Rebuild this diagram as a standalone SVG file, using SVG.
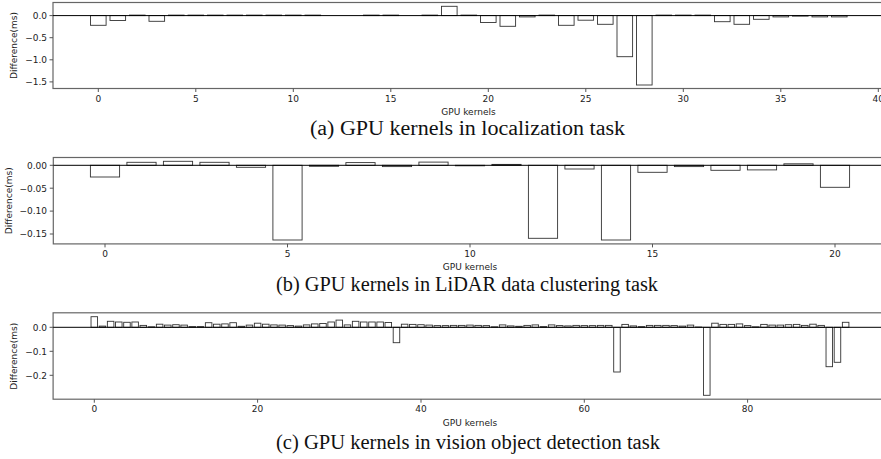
<svg xmlns="http://www.w3.org/2000/svg" width="881" height="459" viewBox="0 0 881 459">
<style>
.bg{fill:#fff}
.sp{fill:none;stroke:#666;stroke-width:1.2}
.zl{stroke:#000;stroke-width:1}
.tk{stroke:#555;stroke-width:1}
.b rect{fill:#fff;stroke:#333;stroke-width:0.9}
.t{font-family:"DejaVu Sans",sans-serif;font-size:9px;fill:#222}
.e{text-anchor:end}
.m{text-anchor:middle}
.cap{font-family:"Liberation Serif","Times New Roman",serif;font-size:20px;fill:#111;text-anchor:middle}
</style>
<rect class="bg" x="0" y="0" width="881" height="459"/>

<g id="panel-a">
  <rect class="sp" x="53" y="2.5" width="840" height="86"/>
  <g class="b">
    <rect x="90.5" y="15.6" width="15.6" height="9.7"/>
    <rect x="110" y="15.6" width="15.6" height="4.9"/>
    <rect x="129.5" y="15.1" width="15.6" height="0.5"/>
    <rect x="149" y="15.6" width="15.6" height="5.7"/>
    <rect x="168.5" y="15.1" width="15.6" height="0.5"/>
    <rect x="188" y="15.1" width="15.6" height="0.5"/>
    <rect x="207.5" y="15.1" width="15.6" height="0.5"/>
    <rect x="227" y="15.1" width="15.6" height="0.5"/>
    <rect x="246.5" y="15.1" width="15.6" height="0.5"/>
    <rect x="266" y="15.1" width="15.6" height="0.5"/>
    <rect x="285.5" y="15.1" width="15.6" height="0.5"/>
    <rect x="305" y="15.1" width="15.6" height="0.5"/>
    <rect x="363.5" y="15.1" width="15.6" height="0.5"/>
    <rect x="383" y="15.1" width="15.6" height="0.5"/>
    <rect x="422" y="15.1" width="15.6" height="0.5"/>
    <rect x="441.5" y="6.3" width="15.6" height="9.3"/>
    <rect x="461" y="15.1" width="15.6" height="0.5"/>
    <rect x="480.5" y="15.6" width="15.6" height="6.9"/>
    <rect x="500" y="15.6" width="15.6" height="10.7"/>
    <rect x="519.5" y="15.6" width="15.6" height="1.3"/>
    <rect x="539" y="15.1" width="15.6" height="0.5"/>
    <rect x="558.5" y="15.6" width="15.6" height="9.7"/>
    <rect x="578" y="15.6" width="15.6" height="4.6"/>
    <rect x="597.5" y="15.6" width="15.6" height="8.7"/>
    <rect x="617" y="15.6" width="15.6" height="41.1"/>
    <rect x="636.5" y="15.6" width="15.6" height="69.4"/>
    <rect x="656" y="15.1" width="15.6" height="0.5"/>
    <rect x="675.5" y="15.1" width="15.6" height="0.5"/>
    <rect x="695" y="15.1" width="15.6" height="0.5"/>
    <rect x="714.5" y="15.6" width="15.6" height="6.1"/>
    <rect x="734" y="15.6" width="15.6" height="8.7"/>
    <rect x="753.5" y="15.6" width="15.6" height="3.7"/>
    <rect x="773" y="15.6" width="15.6" height="1.3"/>
    <rect x="792.5" y="15.6" width="15.6" height="0.5"/>
    <rect x="812" y="15.6" width="15.6" height="1.3"/>
    <rect x="831.5" y="15.6" width="15.6" height="1.3"/>
  </g>
  <line class="zl" x1="53" y1="15.6" x2="881" y2="15.6"/>
  <path class="tk" d="M53 15.6h-3.5M53 37.7h-3.5M53 59.8h-3.5M53 81.9h-3.5M98.3 88.5v3.5M195.8 88.5v3.5M293.3 88.5v3.5M390.8 88.5v3.5M488.3 88.5v3.5M585.8 88.5v3.5M683.3 88.5v3.5M780.8 88.5v3.5M878.3 88.5v3.5"/>
  <text class="t e" x="47" y="18.9">0.0</text>
  <text class="t e" x="47" y="41">−0.5</text>
  <text class="t e" x="47" y="63.1">−1.0</text>
  <text class="t e" x="47" y="85.2">−1.5</text>
  <text class="t m" x="98.3" y="101.5">0</text>
  <text class="t m" x="195.8" y="101.5">5</text>
  <text class="t m" x="293.3" y="101.5">10</text>
  <text class="t m" x="390.8" y="101.5">15</text>
  <text class="t m" x="488.3" y="101.5">20</text>
  <text class="t m" x="585.8" y="101.5">25</text>
  <text class="t m" x="683.3" y="101.5">30</text>
  <text class="t m" x="780.8" y="101.5">35</text>
  <text class="t m" x="878.3" y="101.5">40</text>
  <text class="t m" x="468.5" y="114.5">GPU kernels</text>
  <text class="t m" transform="translate(17,45.5) rotate(-90)">Difference(ms)</text>
  <text class="cap" x="467.5" y="135" textLength="315" lengthAdjust="spacingAndGlyphs">(a) GPU kernels in localization task</text>
</g>

<g id="panel-b">
  <rect class="sp" x="53.3" y="157.5" width="840" height="86.4"/>
  <g class="b">
    <rect x="90.4" y="165.3" width="29.2" height="11.7"/>
    <rect x="126.9" y="162.3" width="29.2" height="3"/>
    <rect x="163.4" y="161.3" width="29.2" height="4"/>
    <rect x="199.9" y="162.3" width="29.2" height="3"/>
    <rect x="236.4" y="165.3" width="29.2" height="2"/>
    <rect x="272.9" y="165.3" width="29.2" height="74.7"/>
    <rect x="309.4" y="165.3" width="29.2" height="1"/>
    <rect x="345.9" y="162.6" width="29.2" height="2.7"/>
    <rect x="382.4" y="165.3" width="29.2" height="1.3"/>
    <rect x="418.9" y="162.1" width="29.2" height="3.2"/>
    <rect x="455.4" y="165.3" width="29.2" height="0.5"/>
    <rect x="491.9" y="164.4" width="29.2" height="0.9"/>
    <rect x="528.4" y="165.3" width="29.2" height="73"/>
    <rect x="564.9" y="165.3" width="29.2" height="3.7"/>
    <rect x="601.4" y="165.3" width="29.2" height="74.7"/>
    <rect x="637.9" y="165.3" width="29.2" height="7"/>
    <rect x="674.4" y="165.3" width="29.2" height="1.3"/>
    <rect x="710.9" y="165.3" width="29.2" height="5"/>
    <rect x="747.4" y="165.3" width="29.2" height="4.6"/>
    <rect x="783.9" y="163.8" width="29.2" height="1.5"/>
    <rect x="820.4" y="165.3" width="29.2" height="22"/>
  </g>
  <line class="zl" x1="53.3" y1="165.3" x2="881" y2="165.3"/>
  <path class="tk" d="M53.3 165.3h-3.5M53.3 188.2h-3.5M53.3 211.1h-3.5M53.3 234h-3.5M105 243.9v3.5M287.5 243.9v3.5M470 243.9v3.5M652.5 243.9v3.5M835 243.9v3.5"/>
  <text class="t e" x="47" y="168.6">0.00</text>
  <text class="t e" x="47" y="191.5">−0.05</text>
  <text class="t e" x="47" y="214.4">−0.10</text>
  <text class="t e" x="47" y="237.3">−0.15</text>
  <text class="t m" x="105" y="257.4">0</text>
  <text class="t m" x="287.5" y="257.4">5</text>
  <text class="t m" x="470" y="257.4">10</text>
  <text class="t m" x="652.5" y="257.4">15</text>
  <text class="t m" x="835" y="257.4">20</text>
  <text class="t m" x="470" y="270">GPU kernels</text>
  <text class="t m" transform="translate(12,200.7) rotate(-90)">Difference(ms)</text>
  <text class="cap" x="467" y="291" textLength="382" lengthAdjust="spacingAndGlyphs">(b) GPU kernels in LiDAR data clustering task</text>
</g>

<g id="panel-c">
  <rect class="sp" x="53.1" y="312.8" width="840" height="86.4"/>
  <g class="b">
    <rect x="91.03" y="316.7" width="6.53" height="10.6"/>
    <rect x="99.2" y="326.1" width="6.53" height="1.2"/>
    <rect x="107.37" y="321.3" width="6.53" height="6"/>
    <rect x="115.53" y="322" width="6.53" height="5.3"/>
    <rect x="123.7" y="322.3" width="6.53" height="5"/>
    <rect x="131.87" y="322" width="6.53" height="5.3"/>
    <rect x="140.03" y="325.4" width="6.53" height="1.9"/>
    <rect x="148.2" y="326.8" width="6.53" height="0.5"/>
    <rect x="156.37" y="324.2" width="6.53" height="3.1"/>
    <rect x="164.53" y="325.1" width="6.53" height="2.2"/>
    <rect x="172.7" y="324.7" width="6.53" height="2.6"/>
    <rect x="180.87" y="325.1" width="6.53" height="2.2"/>
    <rect x="189.03" y="326.6" width="6.53" height="0.7"/>
    <rect x="197.2" y="326.6" width="6.53" height="0.7"/>
    <rect x="205.37" y="322.7" width="6.53" height="4.6"/>
    <rect x="213.53" y="324.2" width="6.53" height="3.1"/>
    <rect x="221.7" y="323.9" width="6.53" height="3.4"/>
    <rect x="229.87" y="322.7" width="6.53" height="4.6"/>
    <rect x="238.03" y="326.3" width="6.53" height="1"/>
    <rect x="246.2" y="325.1" width="6.53" height="2.2"/>
    <rect x="254.37" y="323.2" width="6.53" height="4.1"/>
    <rect x="262.53" y="324.2" width="6.53" height="3.1"/>
    <rect x="270.7" y="324.9" width="6.53" height="2.4"/>
    <rect x="278.87" y="325.1" width="6.53" height="2.2"/>
    <rect x="287.03" y="325.6" width="6.53" height="1.7"/>
    <rect x="295.2" y="326.1" width="6.53" height="1.2"/>
    <rect x="303.37" y="324.9" width="6.53" height="2.4"/>
    <rect x="311.53" y="323.9" width="6.53" height="3.4"/>
    <rect x="319.7" y="323.5" width="6.53" height="3.8"/>
    <rect x="327.87" y="322" width="6.53" height="5.3"/>
    <rect x="336.03" y="320.1" width="6.53" height="7.2"/>
    <rect x="344.2" y="324.9" width="6.53" height="2.4"/>
    <rect x="352.37" y="321.3" width="6.53" height="6"/>
    <rect x="360.53" y="322" width="6.53" height="5.3"/>
    <rect x="368.7" y="322" width="6.53" height="5.3"/>
    <rect x="376.87" y="322" width="6.53" height="5.3"/>
    <rect x="385.03" y="322.5" width="6.53" height="4.8"/>
    <rect x="393.2" y="327.3" width="6.53" height="15.4"/>
    <rect x="401.37" y="324.2" width="6.53" height="3.1"/>
    <rect x="409.53" y="324.4" width="6.53" height="2.9"/>
    <rect x="417.7" y="324.7" width="6.53" height="2.6"/>
    <rect x="425.87" y="325.1" width="6.53" height="2.2"/>
    <rect x="434.03" y="325.6" width="6.53" height="1.7"/>
    <rect x="442.2" y="325.6" width="6.53" height="1.7"/>
    <rect x="450.37" y="325.4" width="6.53" height="1.9"/>
    <rect x="458.53" y="325.4" width="6.53" height="1.9"/>
    <rect x="466.7" y="325.1" width="6.53" height="2.2"/>
    <rect x="474.87" y="325.4" width="6.53" height="1.9"/>
    <rect x="483.03" y="325.6" width="6.53" height="1.7"/>
    <rect x="491.2" y="326.8" width="6.53" height="0.5"/>
    <rect x="499.37" y="324.9" width="6.53" height="2.4"/>
    <rect x="507.53" y="325.9" width="6.53" height="1.4"/>
    <rect x="515.7" y="326.3" width="6.53" height="1"/>
    <rect x="523.87" y="325.4" width="6.53" height="1.9"/>
    <rect x="532.03" y="324.9" width="6.53" height="2.4"/>
    <rect x="540.2" y="326.6" width="6.53" height="0.7"/>
    <rect x="548.37" y="324.9" width="6.53" height="2.4"/>
    <rect x="556.53" y="325.6" width="6.53" height="1.7"/>
    <rect x="564.7" y="325.9" width="6.53" height="1.4"/>
    <rect x="572.87" y="325.4" width="6.53" height="1.9"/>
    <rect x="581.03" y="325.6" width="6.53" height="1.7"/>
    <rect x="589.2" y="325.6" width="6.53" height="1.7"/>
    <rect x="597.37" y="325.4" width="6.53" height="1.9"/>
    <rect x="605.53" y="325.4" width="6.53" height="1.9"/>
    <rect x="613.7" y="327.3" width="6.53" height="44.7"/>
    <rect x="621.87" y="324.4" width="6.53" height="2.9"/>
    <rect x="630.03" y="325.9" width="6.53" height="1.4"/>
    <rect x="638.2" y="326.6" width="6.53" height="0.7"/>
    <rect x="646.37" y="325.4" width="6.53" height="1.9"/>
    <rect x="654.53" y="325.4" width="6.53" height="1.9"/>
    <rect x="662.7" y="325.4" width="6.53" height="1.9"/>
    <rect x="670.87" y="325.6" width="6.53" height="1.7"/>
    <rect x="679.03" y="326.1" width="6.53" height="1.2"/>
    <rect x="687.2" y="325.1" width="6.53" height="2.2"/>
    <rect x="695.37" y="327" width="6.53" height="0.3"/>
    <rect x="703.53" y="327.3" width="6.53" height="68"/>
    <rect x="711.7" y="323.2" width="6.53" height="4.1"/>
    <rect x="719.87" y="324.4" width="6.53" height="2.9"/>
    <rect x="728.03" y="324.4" width="6.53" height="2.9"/>
    <rect x="736.2" y="323.9" width="6.53" height="3.4"/>
    <rect x="744.37" y="325.6" width="6.53" height="1.7"/>
    <rect x="752.53" y="326.8" width="6.53" height="0.5"/>
    <rect x="760.7" y="324.4" width="6.53" height="2.9"/>
    <rect x="768.87" y="325.1" width="6.53" height="2.2"/>
    <rect x="777.03" y="325.1" width="6.53" height="2.2"/>
    <rect x="785.2" y="324.7" width="6.53" height="2.6"/>
    <rect x="793.37" y="324.4" width="6.53" height="2.9"/>
    <rect x="801.53" y="325.4" width="6.53" height="1.9"/>
    <rect x="809.7" y="324.2" width="6.53" height="3.1"/>
    <rect x="817.87" y="325.4" width="6.53" height="1.9"/>
    <rect x="826.03" y="327.3" width="6.53" height="39.4"/>
    <rect x="834.2" y="327.3" width="6.53" height="35"/>
    <rect x="842.37" y="322.3" width="6.53" height="5"/>
  </g>
  <line class="zl" x1="53.1" y1="327.3" x2="881" y2="327.3"/>
  <path class="tk" d="M53.1 327.3h-3.5M53.1 351.3h-3.5M53.1 375.3h-3.5M94.3 399.2v3.5M257.6 399.2v3.5M421 399.2v3.5M584.3 399.2v3.5M747.6 399.2v3.5"/>
  <text class="t e" x="47" y="330.6">0.0</text>
  <text class="t e" x="47" y="354.6">−0.1</text>
  <text class="t e" x="47" y="378.6">−0.2</text>
  <text class="t m" x="94.3" y="412.2">0</text>
  <text class="t m" x="257.6" y="412.2">20</text>
  <text class="t m" x="421" y="412.2">40</text>
  <text class="t m" x="584.3" y="412.2">60</text>
  <text class="t m" x="747.6" y="412.2">80</text>
  <text class="t m" x="470" y="425.5">GPU kernels</text>
  <text class="t m" transform="translate(17,356.3) rotate(-90)">Difference(ms)</text>
  <text class="cap" x="468" y="449" textLength="384" lengthAdjust="spacingAndGlyphs">(c) GPU kernels in vision object detection task</text>
</g>
</svg>
